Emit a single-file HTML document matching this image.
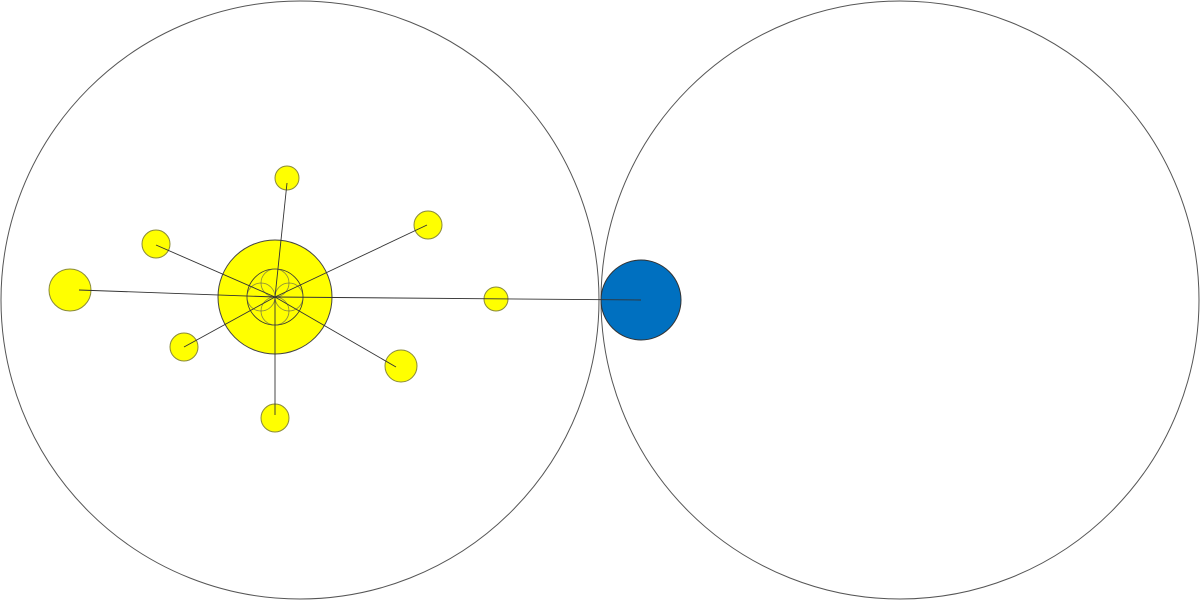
<!DOCTYPE html>
<html><head><style>body{margin:0;background:#fff}svg{display:block}</style></head><body>
<svg width="1200" height="600" viewBox="0 0 1200 600">
<circle cx="300" cy="300" r="299" fill="none" stroke="#555" stroke-width="1"/>
<circle cx="900" cy="300" r="299" fill="none" stroke="#555" stroke-width="1"/>
<g fill="#ffff00" stroke="#8a8a3a" stroke-width="1">
<circle cx="275" cy="297" r="57" stroke="#444"/>
<circle cx="287" cy="178" r="12"/>
<circle cx="428" cy="225" r="14"/>
<circle cx="156" cy="244" r="14"/>
<circle cx="70" cy="290" r="21"/>
<circle cx="496" cy="299" r="12"/>
<circle cx="184" cy="347" r="14"/>
<circle cx="401" cy="366" r="16"/>
<circle cx="275" cy="418" r="14"/>
</g>
<circle cx="641" cy="300" r="40" fill="#0070c0" stroke="#333"/>
<g fill="none" stroke="#555" stroke-width="0.8">
<circle cx="275" cy="297" r="28" stroke="#333"/>
<circle cx="261" cy="297" r="14" stroke-opacity="0.7"/>
<circle cx="289" cy="297" r="14" stroke-opacity="0.7"/>
<circle cx="275" cy="283" r="14" stroke-opacity="0.7"/>
<circle cx="275" cy="311" r="14" stroke-opacity="0.7"/>
</g>
<g stroke="#333" stroke-width="0.9">
<line x1="275" y1="297" x2="287" y2="183"/>
<line x1="275" y1="297" x2="427" y2="225"/>
<line x1="275" y1="297" x2="156" y2="245"/>
<line x1="275" y1="297" x2="79" y2="290"/>
<line x1="275" y1="297" x2="641" y2="300"/>
<line x1="275" y1="297" x2="184" y2="347"/>
<line x1="275" y1="297" x2="396" y2="367"/>
<line x1="275" y1="297" x2="275" y2="415"/>
</g>
</svg>
</body></html>
